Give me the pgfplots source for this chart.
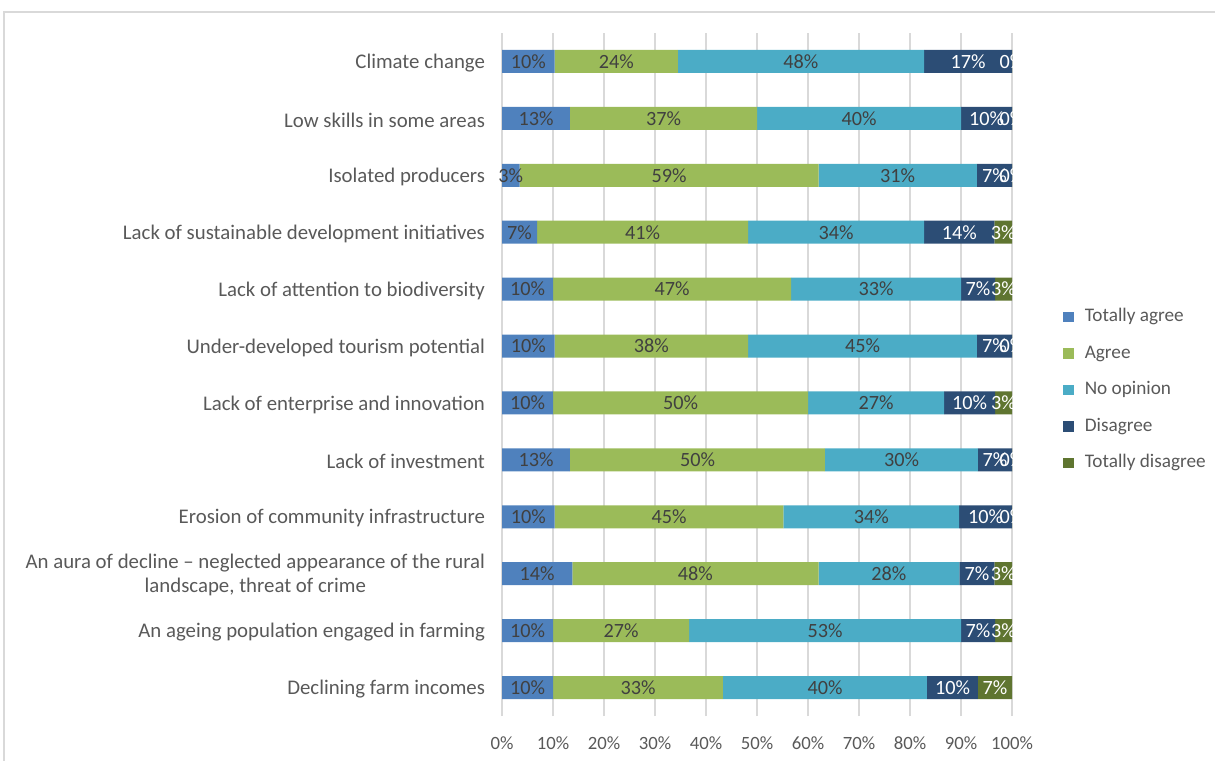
\documentclass[border=0pt]{standalone}
\usepackage{pgfplots}
\pgfplotsset{compat=1.18}
\usepackage{pgfplotstable}
\usepackage{fontspec}
\setmainfont{Carlito}
\definecolor{cTA}{HTML}{4F81BD}
\definecolor{cAG}{HTML}{9BBB59}
\definecolor{cNO}{HTML}{4BACC6}
\definecolor{cDI}{HTML}{2C4D75}
\definecolor{cTD}{HTML}{5F7530}
\definecolor{gridc}{HTML}{D9D9D9}
\definecolor{txt}{HTML}{595959}
\definecolor{lbl}{HTML}{404040}
\pgfplotstableread{
y ta ag no di td
0 10.00 33.33 40.00 10.00 6.67
1 10.00 26.67 53.33 6.67 3.33
2 13.79 48.28 27.59 6.90 3.45
3 10.34 44.83 34.48 10.34 0.01
4 13.33 50.00 30.00 6.67 0.01
5 10.00 50.00 26.67 10.00 3.33
6 10.34 37.93 44.83 6.90 0.01
7 10.00 46.67 33.33 6.67 3.33
8 6.90 41.38 34.48 13.79 3.45
9 3.45 58.62 31.03 6.90 0.01
10 13.33 36.67 40.00 10.00 0.01
11 10.34 24.14 48.28 17.24 0.01
}\data
\begin{document}
\begin{tikzpicture}
\useasboundingbox (0,0) rectangle (607.5bp,-380.5bp);
\draw[color=gridc, line width=0.75bp] (2bp,-381bp) -- (2bp,-6bp) -- (608bp,-6bp);
\begin{axis}[
  at={(251bp,-358bp)}, anchor=south west,
  scale only axis, width=255bp, height=341.5bp,
  xbar stacked, bar width=11.5bp,
  xmin=0, xmax=100, ymin=-0.5, ymax=11.5,
  axis line style={draw=none},
  major tick length=0pt,
  xmajorgrids, grid style={color=gridc, line width=0.75bp},
  xtick={0,10,...,100},
  xticklabels={0\%,10\%,20\%,30\%,40\%,50\%,60\%,70\%,80\%,90\%,100\%},
  ytick={0,...,11},
  yticklabels={Declining farm incomes,
    An ageing population engaged in farming,
    {An aura of decline – neglected appearance of the rural\\landscape, threat of crime},
    Erosion of community infrastructure,
    Lack of investment,
    Lack of enterprise and innovation,
    Under-developed tourism potential,
    Lack of attention to biodiversity,
    Lack of sustainable development initiatives,
    Isolated producers,
    Low skills in some areas,
    Climate change},
  xticklabel style={font=\fontsize{9.4}{11}\selectfont, text=txt, yshift=-7bp},
  yticklabel style={font=\fontsize{10.45}{12}\selectfont, text=txt, align=center, xshift=-5bp, yshift=-0.8bp},
  clip=false,
  point meta=explicit,
  nodes near coords={\pgfmathprintnumber[fixed,precision=0,assume math mode=true]{\pgfplotspointmeta}\%},
  every node near coord/.append style={anchor=center, inner sep=0pt, text=lbl,
     font=\fontsize{10.15}{12}\selectfont},
  legend cell align=left,
  legend image code/.code={\fill[#1] (0bp,-2.6bp) rectangle (5.2bp,2.6bp);},
  legend style={at={(1.1,0.598)}, anchor=north west, draw=none, fill=none,
     inner sep=0pt, font=\fontsize{9.65}{11}\selectfont, text=txt,
     nodes={inner sep=0pt, text height=7bp, text depth=2bp},
     row sep=9.25bp,
     /tikz/every odd column/.append style={column sep=5.5bp}},
]
\addplot[fill=cTA, draw=none] table[x=ta, y=y, meta=ta] {\data};
\addplot[fill=cAG, draw=none] table[x=ag, y=y, meta=ag] {\data};
\addplot[fill=cNO, draw=none] table[x=no, y=y, meta=no] {\data};
\addplot[fill=cDI, draw=none, every node near coord/.append style={text=white}] table[x=di, y=y, meta=di] {\data};
\addplot[fill=cTD, draw=none, every node near coord/.append style={text=white}] table[x=td, y=y, meta=td] {\data};
\legend{Totally agree, Agree, No opinion, Disagree, Totally disagree}
\end{axis}
\end{tikzpicture}
\end{document}
